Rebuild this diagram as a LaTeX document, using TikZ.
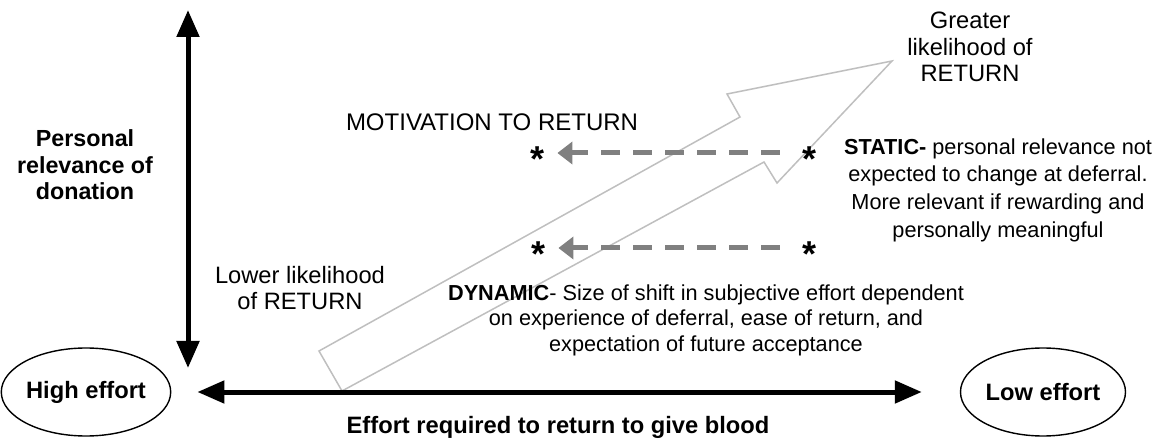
\documentclass[tikz,border=0pt]{standalone}
\usepackage{fontspec}
\setmainfont{Liberation Sans}
\usetikzlibrary{shapes.geometric,arrows.meta}

\begin{document}
\begin{tikzpicture}[
      x=0.5pt, y=-0.5pt,
      effort/.style={
        draw,
        ellipse,
        line width=0.7pt,
        inner sep=0pt,
        minimum height=44pt,
        font=\fontsize{11.85}{13}\selectfont\bfseries
      },
      grand/.style={
        align=center,
        inner sep=0pt,
        font=\fontsize{11.85}{13.2}\selectfont
      },
      petit/.style={
        align=center,
        inner sep=0pt,
        font=\fontsize{10.85}{13.8}\selectfont
      },
      etoile/.style={
        inner sep=0pt,
        text height=13pt,
        text depth=-7.6pt,
        font=\fontsize{18}{18}\selectfont\bfseries
      },
      axe/.style={
        line width=2.5pt,
        {Triangle[length=13.5pt,width=11pt]}-{Triangle[length=13.5pt,width=11pt]}
      },
      motiv/.style={
        draw=black!50,
        line width=2.5pt,
        dash pattern=on 9.5pt off 6.5pt,
        -{Triangle[length=7.5pt,width=11pt]}
      }
    ]
    \useasboundingbox (0,0) rectangle (1164,444);

    % la grande fleche creuse
    \draw[black!25, line width=0.75pt]
      (319,351) -- (342,391) -- (764,162) -- (777,183)
      -- (892,61) -- (727,94) -- (740,117) -- cycle;

    \node[effort, minimum width=77.5pt] (high) at (86,392) {High effort};
    \node[effort, minimum width=82.5pt] (low) at (1043,392) {Low effort};
    \draw[axe, shorten <=13pt, shorten >=19pt] (high.east) -- (low.west);

    \coordinate (haut) at (188,10);
    \coordinate (bas) at (188,368);
    \draw[axe] (haut) -- (bas);

    \node[grand, font=\fontsize{11.65}{13.3}\selectfont\bfseries] (relev) at (85,165)
      {Personal\\relevance of\\donation};
    \node[grand, font=\fontsize{11.85}{13}\selectfont\bfseries] (effax) at (558,427)
      {Effort required to return to give blood};

    \node[grand] (greater) at (970,47) {Greater\\likelihood of\\RETURN};
    \node[grand] (lower) at (300,288) {Lower likelihood\\of RETURN};
    \node[grand, font=\fontsize{12}{13}\selectfont] (motivation) at (492,122)
      {MOTIVATION TO RETURN};

    % les etoiles et les deplacements
    \node[etoile] (sl) at (538,159) {*};
    \node[etoile] (sr) at (809,159) {*};
    \node[etoile] (dl) at (539,254) {*};
    \node[etoile] (dr) at (809,254) {*};
    \draw[motiv, shorten <=11pt, shorten >=6pt]
      ([yshift=3pt]sr.west) -- ([yshift=3pt]sl.east);
    \draw[motiv, shorten <=11pt, shorten >=6pt]
      ([yshift=3pt]dr.west) -- ([yshift=3pt]dl.east);

    \node[petit] (static) at (998,190)
      {\textbf{STATIC-} personal relevance not\\expected to change at deferral.\\More relevant if rewarding and\\personally meaningful};
    \node[petit, font=\fontsize{10.85}{12.75}\selectfont] (dynamic) at (706,320)
      {\textbf{DYNAMIC}- Size of shift in subjective effort dependent\\on experience of deferral, ease of return, and\\expectation of future acceptance};

  \end{tikzpicture}
\end{document}
